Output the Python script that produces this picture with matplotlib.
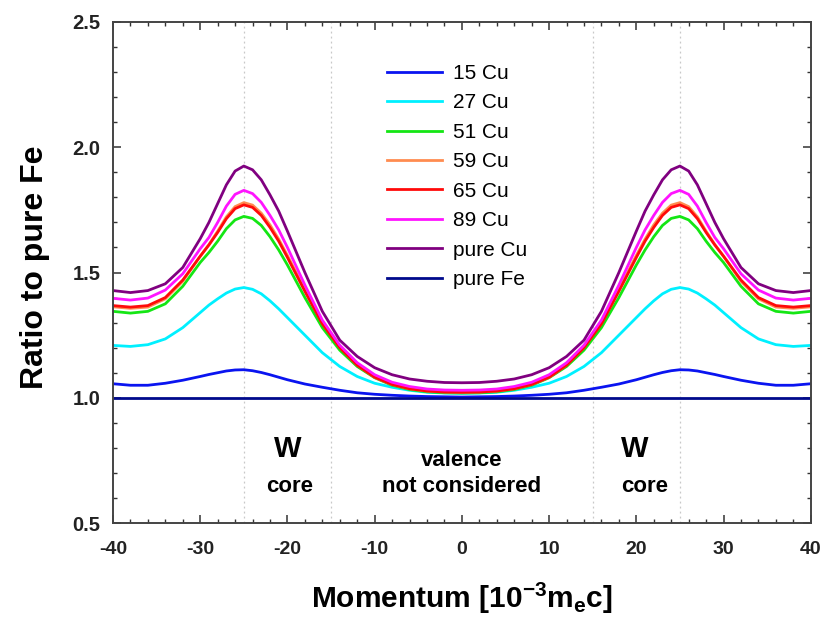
import matplotlib
matplotlib.use("Agg")
import matplotlib.pyplot as plt
from matplotlib.ticker import MultipleLocator, FormatStrFormatter

plt.rcParams['font.family'] = ['Liberation Sans', 'DejaVu Sans']
plt.rcParams['mathtext.fontset'] = 'custom'
plt.rcParams['mathtext.rm'] = 'Liberation Sans:bold'
plt.rcParams['mathtext.default'] = 'rm'
plt.rcParams['axes.unicode_minus'] = False

# Momentum grid [10^-3 m_e c]
momentum = [-40, -38, -36, -34, -32, -30, -29, -28, -27, -26, -25, -24, -23, -22, -21, -20, -18, -16, -14, -12, -10, -8, -6, -4, -2,
            0, 2, 4, 6, 8, 10, 12, 14, 16, 18, 20, 21, 22, 23, 24, 25, 26, 27, 28, 29, 30, 32, 34, 36, 38, 40]

# ratio curves
cu15 = [1.056, 1.050, 1.050, 1.058, 1.070, 1.085, 1.093, 1.100, 1.107, 1.111, 1.112, 1.108, 1.101, 1.092, 1.082, 1.072, 1.055, 1.042, 1.030, 1.020, 1.014, 1.010, 1.007, 1.005, 1.004,
        1.003, 1.004, 1.005, 1.007, 1.010, 1.014, 1.020, 1.030, 1.042, 1.055, 1.072, 1.082, 1.092, 1.101, 1.108, 1.112, 1.111, 1.107, 1.100, 1.093, 1.085, 1.070, 1.058, 1.050, 1.050, 1.056]
cu27 = [1.209, 1.205, 1.212, 1.235, 1.280, 1.340, 1.370, 1.395, 1.418, 1.434, 1.440, 1.433, 1.415, 1.387, 1.355, 1.320, 1.250, 1.180, 1.125, 1.085, 1.058, 1.042, 1.030, 1.022, 1.019,
        1.018, 1.019, 1.022, 1.030, 1.042, 1.058, 1.085, 1.125, 1.180, 1.250, 1.320, 1.355, 1.387, 1.415, 1.433, 1.440, 1.434, 1.418, 1.395, 1.370, 1.340, 1.280, 1.235, 1.212, 1.205, 1.209]
cu51 = [1.345, 1.338, 1.345, 1.375, 1.445, 1.540, 1.580, 1.625, 1.675, 1.710, 1.724, 1.716, 1.688, 1.643, 1.590, 1.530, 1.400, 1.280, 1.190, 1.125, 1.080, 1.050, 1.033, 1.024, 1.020,
        1.019, 1.020, 1.024, 1.033, 1.050, 1.080, 1.125, 1.190, 1.280, 1.400, 1.530, 1.590, 1.643, 1.688, 1.716, 1.724, 1.710, 1.675, 1.625, 1.580, 1.540, 1.445, 1.375, 1.345, 1.338, 1.345]
cu59 = [1.363, 1.357, 1.362, 1.395, 1.465, 1.565, 1.612, 1.665, 1.722, 1.763, 1.779, 1.769, 1.737, 1.690, 1.633, 1.568, 1.432, 1.300, 1.203, 1.131, 1.082, 1.053, 1.036, 1.027, 1.023,
        1.022, 1.023, 1.027, 1.036, 1.053, 1.082, 1.131, 1.203, 1.300, 1.432, 1.568, 1.633, 1.690, 1.737, 1.769, 1.779, 1.763, 1.722, 1.665, 1.612, 1.565, 1.465, 1.395, 1.362, 1.357, 1.363]
cu65 = [1.368, 1.362, 1.368, 1.400, 1.470, 1.565, 1.610, 1.660, 1.715, 1.755, 1.770, 1.760, 1.728, 1.680, 1.625, 1.560, 1.425, 1.295, 1.200, 1.130, 1.082, 1.053, 1.036, 1.027, 1.023,
        1.022, 1.023, 1.027, 1.036, 1.053, 1.082, 1.130, 1.200, 1.295, 1.425, 1.560, 1.625, 1.680, 1.728, 1.760, 1.770, 1.755, 1.715, 1.660, 1.610, 1.565, 1.470, 1.400, 1.368, 1.362, 1.368]
cu89 = [1.397, 1.390, 1.398, 1.430, 1.495, 1.595, 1.640, 1.700, 1.765, 1.812, 1.828, 1.815, 1.780, 1.728, 1.670, 1.600, 1.450, 1.310, 1.210, 1.140, 1.092, 1.062, 1.045, 1.035, 1.031,
        1.030, 1.031, 1.035, 1.045, 1.062, 1.092, 1.140, 1.210, 1.310, 1.450, 1.600, 1.670, 1.728, 1.780, 1.815, 1.828, 1.812, 1.765, 1.700, 1.640, 1.595, 1.495, 1.430, 1.398, 1.390, 1.397]
cu_pure = [1.428, 1.420, 1.428, 1.455, 1.520, 1.635, 1.700, 1.775, 1.850, 1.905, 1.925, 1.910, 1.870, 1.810, 1.745, 1.665, 1.500, 1.345, 1.230, 1.165, 1.120, 1.092, 1.075, 1.066, 1.061,
           1.060, 1.061, 1.066, 1.075, 1.092, 1.120, 1.165, 1.230, 1.345, 1.500, 1.665, 1.745, 1.810, 1.870, 1.910, 1.925, 1.905, 1.850, 1.775, 1.700, 1.635, 1.520, 1.455, 1.428, 1.420, 1.428]
fe_pure = [1.0] * len(momentum)

series = [("15 Cu", cu15, "#0a14f0"),
          ("27 Cu", cu27, "#00f0ff"),
          ("51 Cu", cu51, "#14e614"),
          ("59 Cu", cu59, "#ff8c50"),
          ("65 Cu", cu65, "#ff0a0a"),
          ("89 Cu", cu89, "#ff14ff"),
          ("pure Cu", cu_pure, "#800080"),
          ("pure Fe", fe_pure, "#000a8c")]

fig = plt.figure(figsize=(8.29, 6.19), dpi=100)
ax = fig.add_axes([0.1363, 0.155, 0.8417, 0.8095])

# region borders
for xv in [-25, -15, 15, 25]:
    ax.axvline(xv, color="#c8c8c8", linestyle=(0, (1.5, 2.5)), linewidth=0.9, zorder=0)

for name, vals, col in series:
    ax.plot(momentum, vals, color=col, linewidth=2.0, label=name)

ax.set_xlim(-40, 40)
ax.set_ylim(0.5, 2.5)
ax.xaxis.set_major_locator(MultipleLocator(10))
ax.xaxis.set_minor_locator(MultipleLocator(2))
ax.yaxis.set_major_locator(MultipleLocator(0.5))
ax.yaxis.set_minor_locator(MultipleLocator(0.1))
ax.yaxis.set_major_formatter(FormatStrFormatter('%.1f'))

ax.tick_params(which="both", direction="in", top=True, right=True, color="#333333")
ax.tick_params(which="major", length=6, width=1.1)
ax.tick_params(which="minor", length=3, width=1.0)
ax.tick_params(axis="x", which="major", pad=13, labelsize=14)
ax.tick_params(axis="y", which="major", pad=9, labelsize=14.5)
for lab in ax.get_xticklabels() + ax.get_yticklabels():
    lab.set_fontweight("bold")
    lab.set_color("#222222")
for s in ax.spines.values():
    s.set_linewidth(1.4)
    s.set_color("#444444")

ax.set_ylabel("Ratio to pure Fe", fontsize=23, fontweight="bold")
ax.yaxis.set_label_coords(-0.09, 0.51)
ax.set_xlabel(r"Momentum [10$^{-3}$m$_{e}$c]", fontsize=21.5, fontweight="bold")
ax.xaxis.set_label_coords(0.5, -0.115)

ax.text(-20.0, 0.795, "W", fontsize=21, fontweight="bold", ha="center", va="center")
ax.text(-19.8, 0.645, "core", fontsize=16, fontweight="bold", ha="center", va="center")
ax.text(19.8, 0.795, "W", fontsize=21, fontweight="bold", ha="center", va="center")
ax.text(20.9, 0.645, "core", fontsize=16, fontweight="bold", ha="center", va="center")
ax.text(0, 0.75, "valence", fontsize=16, fontweight="bold", ha="center", va="center")
ax.text(0, 0.645, "not considered", fontsize=16, fontweight="bold", ha="center", va="center")

ax.legend(loc="upper left", bbox_to_anchor=(0.3926, 0.916), frameon=False, fontsize=15,
          handlelength=2.64, handletextpad=0.55, labelspacing=0.5, borderaxespad=0, borderpad=0)

fig.savefig("out.png", dpi=100)
